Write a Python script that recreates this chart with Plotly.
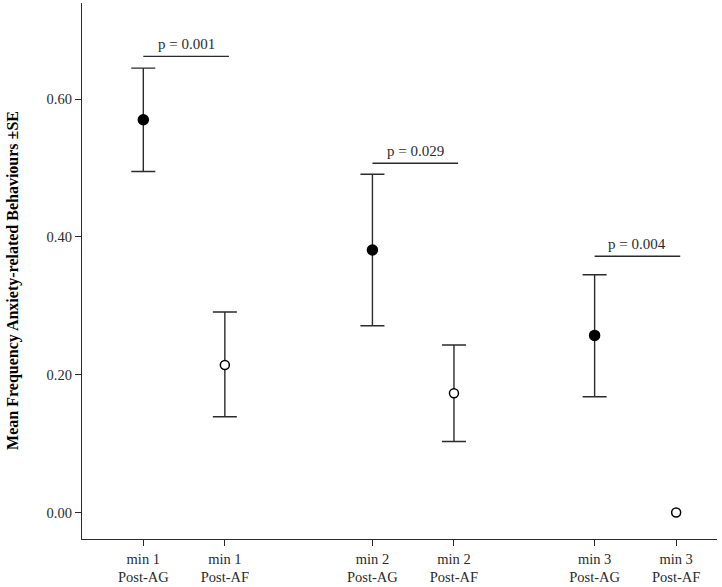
import plotly.graph_objects as go

# ---- data ----
categories = ["min 1<br>Post-AG", "min 1<br>Post-AF",
              "min 2<br>Post-AG", "min 2<br>Post-AF",
              "min 3<br>Post-AG", "min 3<br>Post-AF"]
conditions = ["AG", "AF", "AG", "AF", "AG", "AF"]
means = [0.570, 0.214, 0.381, 0.173, 0.257, 0.000]
upper = [0.645, 0.291, 0.491, 0.243, 0.345, 0.000]
lower = [0.495, 0.139, 0.271, 0.103, 0.168, 0.000]
p_labels = ["p = 0.001", "p = 0.029", "p = 0.004"]
p_levels = [0.662, 0.507, 0.372]
y_ticks = [0.0, 0.2, 0.4, 0.6]

# ---- layout helpers (slot positions on the x axis) ----
group_starts = [0.0, 2.81, 5.535]
slot_x = []
for g in group_starts:
    slot_x += [g, g + 1.0]

FONT = "Liberation Serif, Times New Roman, serif"
INK = "#2b2b2b"

fig = go.Figure()

# error bars only where there is a spread
eidx = [i for i in range(len(means)) if upper[i] - lower[i] > 0]
fig.add_trace(go.Scatter(
    x=[slot_x[i] for i in eidx], y=[means[i] for i in eidx], mode="markers",
    marker=dict(size=1, color="rgba(0,0,0,0)"),
    error_y=dict(type="data", symmetric=False,
                 array=[upper[i] - means[i] for i in eidx],
                 arrayminus=[means[i] - lower[i] for i in eidx],
                 color=INK, thickness=1.4, width=12, visible=True),
    showlegend=False, hoverinfo="skip"))

for cond, fill in [("AG", "black"), ("AF", "white")]:
    idx = [i for i, c in enumerate(conditions) if c == cond]
    fig.add_trace(go.Scatter(
        x=[slot_x[i] for i in idx], y=[means[i] for i in idx], mode="markers",
        marker=dict(color=fill, size=10 if cond == "AG" else 9,
                    line=dict(color="black", width=1.5)),
        showlegend=False, hoverinfo="skip"))

for k, (lab, lvl) in enumerate(zip(p_labels, p_levels)):
    x0 = slot_x[2 * k]
    x1 = slot_x[2 * k + 1] + 0.05
    fig.add_shape(type="line", xref="x", yref="y", x0=x0, x1=x1, y0=lvl, y1=lvl,
                  line=dict(color=INK, width=1.4))
    fig.add_annotation(x=(x0 + x1) / 2, y=lvl, xref="x", yref="y", text=lab,
                       showarrow=False, yshift=12,
                       font=dict(family=FONT, size=15, color=INK))

fig.add_annotation(text="<b>Mean Frequency Anxiety-related Behaviours ±SE</b>",
                   xref="paper", yref="paper", x=-0.109, y=0.483, textangle=-90,
                   showarrow=False, font=dict(family=FONT, size=16, color="black"),
                   xanchor="center", yanchor="middle")

fig.update_layout(
    width=722, height=587,
    margin=dict(l=82, r=5, t=3, b=48, autoexpand=False),
    paper_bgcolor="white", plot_bgcolor="white",
    font=dict(family=FONT, color=INK),
    xaxis=dict(range=[-0.752, 7.036], tickvals=slot_x, ticktext=categories,
               showgrid=False, zeroline=False, showline=True, linecolor=INK,
               linewidth=1.4, ticks="outside", ticklen=6, tickcolor=INK,
               tickwidth=1.4, automargin=False,
               tickfont=dict(family=FONT, size=14.5, color=INK)),
    yaxis=dict(range=[-0.0385, 0.7395], tickvals=y_ticks,
               ticktext=[f"{v:.2f}" for v in y_ticks],
               showgrid=False, zeroline=False, showline=True, linecolor=INK,
               linewidth=1.4, ticks="outside", ticklen=6, tickcolor=INK,
               tickwidth=1.4, automargin=False,
               tickfont=dict(family=FONT, size=14.5, color=INK)),
)

fig.write_html("out.html", config={"displayModeBar": False},
               post_script="document.body.style.margin='0';")
